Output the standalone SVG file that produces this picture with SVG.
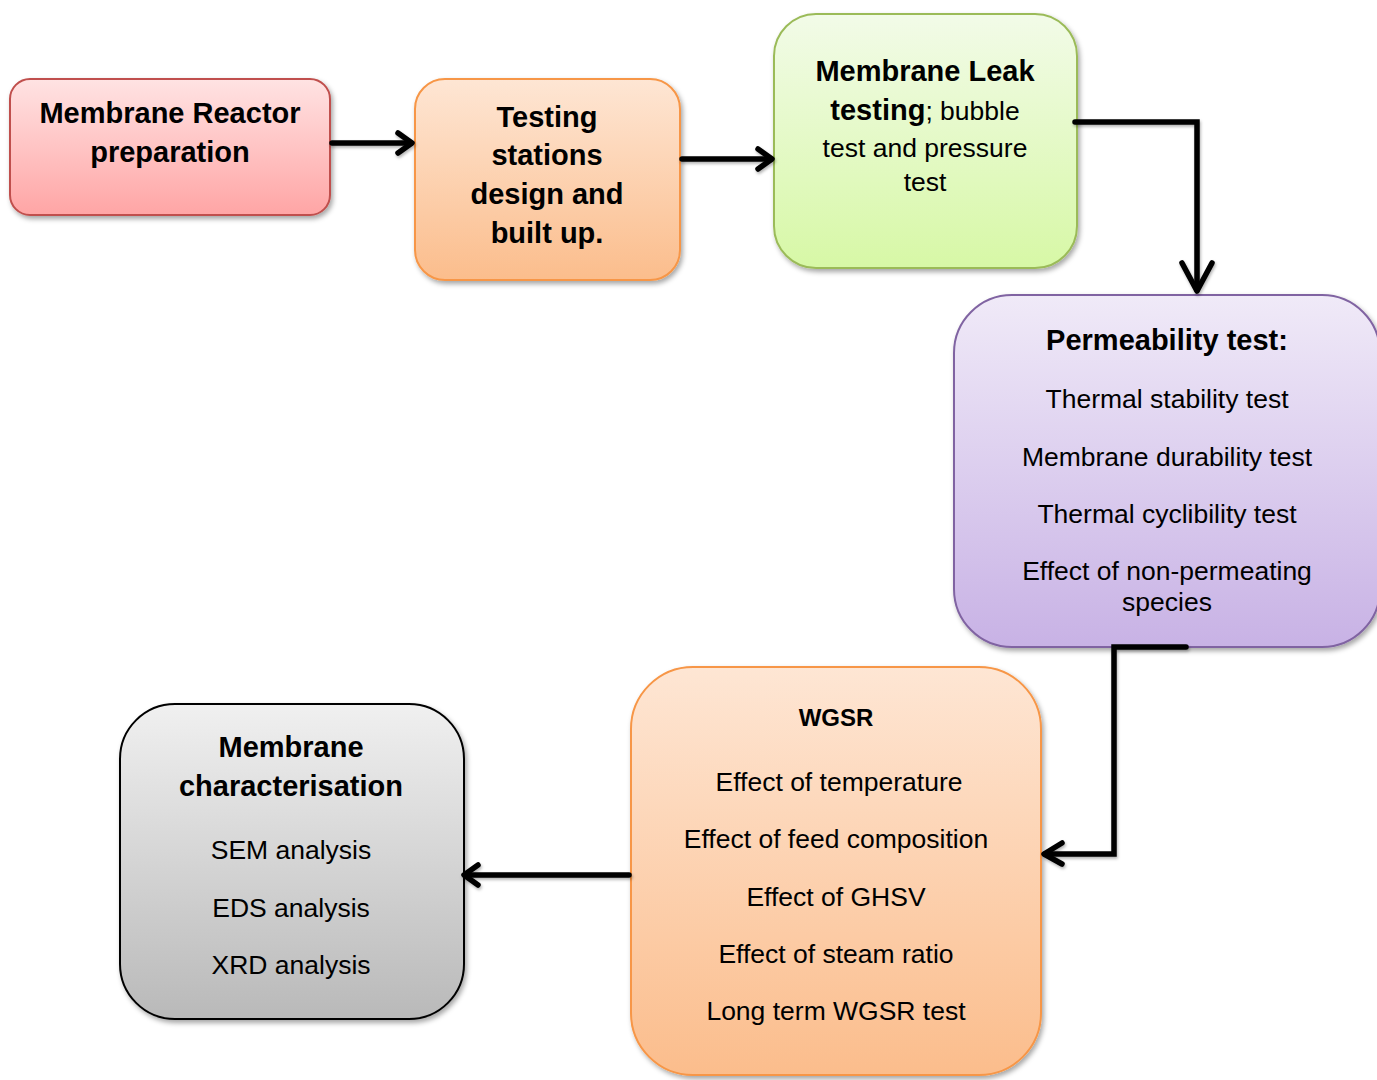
<svg xmlns="http://www.w3.org/2000/svg" width="1377" height="1080" viewBox="0 0 1377 1080">
<defs>
<linearGradient id="gRed" x1="0" y1="0" x2="0" y2="1"><stop offset="0" stop-color="#ffe3e3"/><stop offset="1" stop-color="#ffa5a5"/></linearGradient>
<linearGradient id="gOrange" x1="0" y1="0" x2="0" y2="1"><stop offset="0" stop-color="#fee6d4"/><stop offset="1" stop-color="#fbbd8c"/></linearGradient>
<linearGradient id="gGreen" x1="0" y1="0" x2="0" y2="1"><stop offset="0" stop-color="#f2fbe8"/><stop offset="1" stop-color="#d7f8a6"/></linearGradient>
<linearGradient id="gPurple" x1="0" y1="0" x2="0" y2="1"><stop offset="0" stop-color="#f0eaf8"/><stop offset="1" stop-color="#c8b2e5"/></linearGradient>
<linearGradient id="gGray" x1="0" y1="0" x2="0" y2="1"><stop offset="0" stop-color="#f0f0f0"/><stop offset="1" stop-color="#b9b9b9"/></linearGradient>
<filter id="sh" x="-10%" y="-10%" width="125%" height="125%"><feDropShadow dx="2" dy="3" stdDeviation="2.5" flood-color="#000" flood-opacity="0.35"/></filter>
<filter id="lsh" x="-20%" y="-20%" width="140%" height="140%"><feDropShadow dx="1" dy="2" stdDeviation="1.5" flood-color="#000" flood-opacity="0.3"/></filter>
</defs>
<style>
text{font-family:"Liberation Sans",Arial,sans-serif;fill:#000;text-anchor:middle}
.b{font-weight:bold;font-size:29px}
.n{font-size:26.5px}
.box{stroke-width:2}
.c{fill:none;stroke:#000;stroke-width:5.5;stroke-linecap:round;stroke-linejoin:miter}
.h{fill:none;stroke:#000;stroke-width:5.5;stroke-linecap:round;stroke-linejoin:round}
</style>

<g id="node-reactor">
<rect class="box" x="10" y="79" width="320" height="136" rx="20" fill="url(#gRed)" stroke="#c0504d" filter="url(#sh)"/>
<text class="b" x="170" y="123">Membrane Reactor</text>
<text class="b" x="170" y="162">preparation</text>
</g>

<g id="node-testing">
<rect class="box" x="415" y="79" width="265" height="201" rx="30" fill="url(#gOrange)" stroke="#f79646" filter="url(#sh)"/>
<text class="b" x="547" y="127">Testing</text>
<text class="b" x="547" y="165">stations</text>
<text class="b" x="547" y="204">design and</text>
<text class="b" x="547" y="243">built up.</text>
</g>

<g id="node-leak">
<rect class="box" x="774" y="14" width="303" height="254" rx="42" fill="url(#gGreen)" stroke="#9bbb59" filter="url(#sh)"/>
<text class="b" x="925" y="81">Membrane Leak</text>
<text x="925" y="120"><tspan class="b">testing</tspan><tspan class="n">; bubble</tspan></text>
<text class="n" x="925" y="157">test and pressure</text>
<text class="n" x="925" y="191">test</text>
</g>

<g id="node-permeability">
<rect class="box" x="954" y="295" width="426" height="352" rx="58" fill="url(#gPurple)" stroke="#8064a2" filter="url(#sh)"/>
<text class="b" x="1167" y="350">Permeability test:</text>
<text class="n" x="1167" y="408">Thermal stability test</text>
<text class="n" x="1167" y="466">Membrane durability test</text>
<text class="n" x="1167" y="523">Thermal cyclibility test</text>
<text class="n" x="1167" y="580">Effect of non-permeating</text>
<text class="n" x="1167" y="611">species</text>
</g>

<g id="node-wgsr">
<rect class="box" x="631" y="667" width="410" height="408" rx="62" fill="url(#gOrange)" stroke="#f79646" filter="url(#sh)"/>
<text x="836" y="726" style="font-weight:bold;font-size:24px">WGSR</text>
<text class="n" x="839" y="791">Effect of temperature</text>
<text class="n" x="836" y="848">Effect of feed composition</text>
<text class="n" x="836" y="906">Effect of GHSV</text>
<text class="n" x="836" y="963">Effect of steam ratio</text>
<text class="n" x="836" y="1020">Long term WGSR test</text>
</g>

<g id="node-characterisation">
<rect class="box" x="120" y="704" width="344" height="315" rx="55" fill="url(#gGray)" stroke="#000" filter="url(#sh)"/>
<text class="b" x="291" y="757">Membrane</text>
<text class="b" x="291" y="796">characterisation</text>
<text class="n" x="291" y="859">SEM analysis</text>
<text class="n" x="291" y="917">EDS analysis</text>
<text class="n" x="291" y="974">XRD analysis</text>
</g>

<g id="connectors" filter="url(#lsh)">
<path class="c" d="M332 143 H411"/>
<path class="h" d="M398 133 L412 143 L398 153"/>
<path class="c" d="M682 159 H771"/>
<path class="h" d="M758 149 L772 159 L758 169"/>
<path class="c" d="M1075 122 H1197 V290"/>
<path class="h" d="M1182 263 L1197 291 L1212 263"/>
<path class="c" d="M1186 647 H1114 V854 H1045"/>
<path class="h" d="M1062 843 L1044 854 L1062 864"/>
<path class="c" d="M629 875 H467"/>
<path class="h" d="M478 865 L464 875 L478 885"/>
</g>
</svg>
